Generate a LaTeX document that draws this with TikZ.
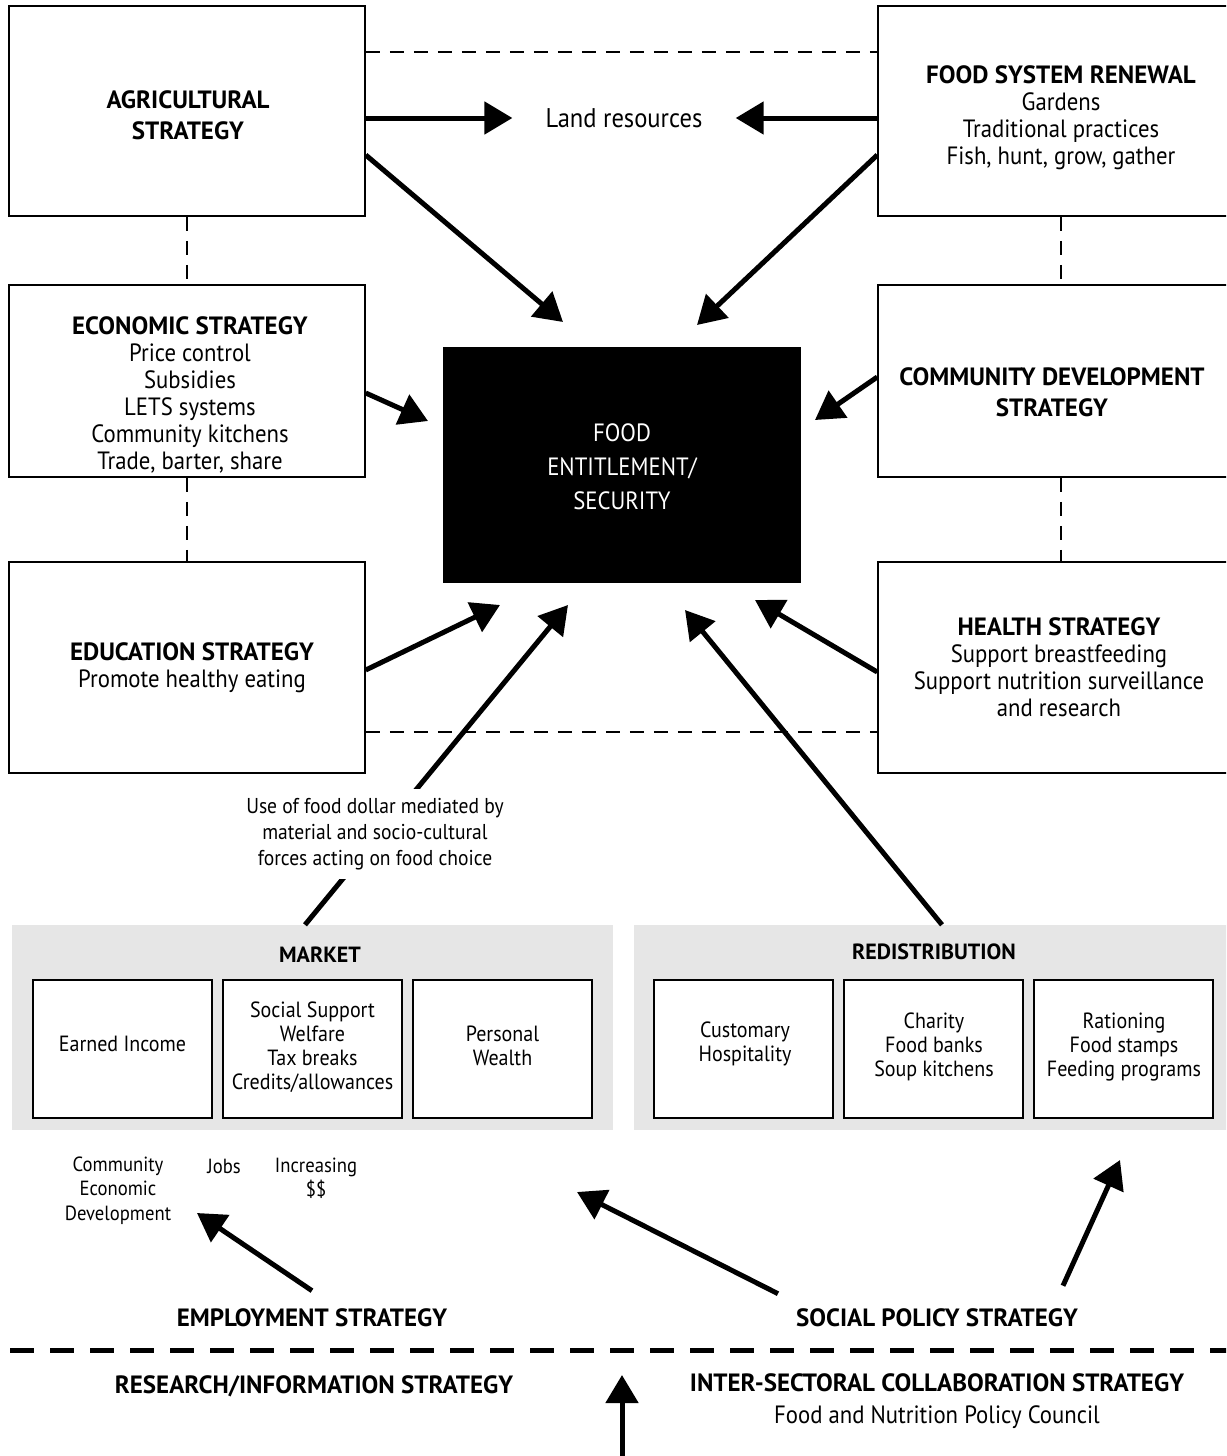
\documentclass[tikz,border=0pt]{standalone}
\usepackage{fontspec}
\setmainfont[FakeStretch=0.91, BoldFeatures={FakeStretch=1.0}]{PT Sans}
\usetikzlibrary{arrows.meta}
\definecolor{panelgray}{HTML}{E6E6E6}
\begin{document}
\begin{tikzpicture}[x=1pt,y=-1pt,
  box/.style={draw, line width=1.5pt, fill=white, inner sep=0pt},
  inbox/.style={draw, line width=1.5pt, fill=white, inner sep=0pt, minimum width=179pt, minimum height=138pt},
  panel/.style={fill=panelgray, inner sep=0pt},
  txt/.style={align=center, inner sep=0pt, font=\fontsize{25}{27}\selectfont},
  small/.style={align=center, inner sep=0pt, font=\fontsize{22}{24}\selectfont},
  arr/.style={line width=5pt, -{Triangle[length=28pt,width=32pt]}},
  boxdash/.style={line width=2pt, dash pattern=on 14pt off 10pt},
  bigdash/.style={line width=5pt, dash pattern=on 24pt off 16pt}
]
\clip (0,0) rectangle (1226,1456);
\fill[white] (0,0) rectangle (1226,1456);

% --- strategy boxes ---
\node[box, minimum width=356pt, minimum height=210pt] (agri) at (187,111) {};
\node[box, minimum width=362pt, minimum height=210pt] (fsr) at (1059,111) {};
\node[box, minimum width=356pt, minimum height=192pt] (econ) at (187,381) {};
\node[box, minimum width=362pt, minimum height=192pt] (comm) at (1059,381) {};
\node[box, minimum width=356pt, minimum height=211pt] (edu) at (187,667.5) {};
\node[box, minimum width=362pt, minimum height=211pt] (health) at (1059,667.5) {};

% --- central box ---
\node[fill=black, minimum width=358pt, minimum height=236pt, inner sep=0pt] (food) at (622,465) {};
\node[align=center, inner sep=0pt, text=white, font=\fontsize{25}{34}\selectfont] (foodtxt) at (622,467) {FOOD\\ENTITLEMENT/\\SECURITY};

% --- box texts ---
\node[txt, font=\bfseries\fontsize{25}{31}\selectfont] (agritxt) at (188,115.5) {AGRICULTURAL\\STRATEGY};
\node[txt] (fsrtxt) at (1061,118) {\textbf{FOOD SYSTEM RENEWAL}\\Gardens\\Traditional practices\\Fish, hunt, grow, gather};
\node[txt] (econtxt) at (190,395) {\textbf{ECONOMIC STRATEGY}\\Price control\\Subsidies\\LETS systems\\Community kitchens\\Trade, barter, share};
\node[txt, font=\bfseries\fontsize{25}{31}\selectfont] (commtxt) at (1052,392.5) {COMMUNITY DEVELOPMENT\\STRATEGY};
\node[txt] (edutxt) at (192,667.5) {\textbf{EDUCATION STRATEGY}\\Promote healthy eating};
\node[txt] (healthtxt) at (1059,667) {\textbf{HEALTH STRATEGY}\\Support breastfeeding\\Support nutrition surveillance\\and research};

\node[txt, font=\fontsize{27}{30}\selectfont] (land) at (624,118) {Land resources};

% --- dashed links ---
\draw[boxdash] (agri.east |- 0,52) -- (fsr.west |- 0,52);
\draw[boxdash] (agri.south) -- (econ.north);
\draw[boxdash] (econ.south) -- (edu.north);
\draw[boxdash] ([xshift=2pt]fsr.south) -- ([xshift=2pt]comm.north);
\draw[boxdash] ([xshift=2pt]comm.south) -- ([xshift=2pt]health.north);
\draw[boxdash] (edu.east |- 0,732) -- (health.west |- 0,732);

% --- panels ---
\node[panel, minimum width=601pt, minimum height=205pt] (market) at (312.5,1027.5) {};
\node[panel, minimum width=606pt, minimum height=205pt] (redist) at (937,1027.5) {};
\node[small, font=\bfseries\fontsize{22}{24}\selectfont] (markettxt) at (320,955) {MARKET};
\node[small, font=\bfseries\fontsize{22}{24}\selectfont] (redisttxt) at (934,952) {REDISTRIBUTION};

\node[inbox] (earned) at (122.5,1049) {};
\node[inbox] (social) at (312.5,1049) {};
\node[inbox] (wealth) at (502.5,1049) {};
\node[inbox] (custom) at (743.5,1049) {};
\node[inbox] (charity) at (933.5,1049) {};
\node[inbox] (ration) at (1123.5,1049) {};
\node[small] (earnedtxt) at (122.5,1044) {Earned Income};
\node[small] (socialtxt) at (312.5,1047.5) {Social Support\\Welfare\\Tax breaks\\Credits/allowances};
\node[small] (wealthtxt) at (502.5,1046) {Personal\\Wealth};
\node[small] (customtxt) at (745,1044) {Customary\\Hospitality};
\node[small] (charitytxt) at (934,1047) {Charity\\Food banks\\Soup kitchens};
\node[small] (rationtxt) at (1124,1047) {Rationing\\Food stamps\\Feeding programs};

% --- arrows ---
\draw[arr] (agri.east |- land) -- ([xshift=-33pt]land.west);
\draw[arr] (fsr.west |- land) -- ([xshift=33pt]land.east);

\coordinate (tA) at (563,322);
\coordinate (tF) at (697,325);
\coordinate (tE) at (428,421);
\coordinate (tC) at (815,420);
\coordinate (tD) at (500,605);
\coordinate (tH) at (755,600);
\coordinate (tM) at (568,605);
\coordinate (tR) at (685,610);
\draw[arr] ([yshift=-44pt]agri.east) -- (tA);
\draw[arr] ([yshift=-44pt]fsr.west) -- (tF);
\draw[arr] ([yshift=-12pt]econ.east) -- (tE);
\draw[arr] ([yshift=4pt]comm.west) -- (tC);
\draw[arr] ([yshift=-2.5pt]edu.east) -- (tD);
\draw[arr] ([yshift=-4.5pt]health.west) -- (tH);
\draw[arr] ([xshift=-7.5pt]market.north) -- (tM);
\draw[arr] ([xshift=5pt]redist.north) -- (tR);

\node[align=center, fill=white, inner xsep=4pt, inner ysep=9pt, font=\fontsize{21.5}{26}\selectfont] (dollar) at (375,834) {Use of food dollar mediated by\\material and socio-cultural\\forces acting on food choice};

% --- lower texts ---
\node[small, font=\fontsize{20.5}{24.5}\selectfont] (ced) at (118,1190.5) {Community\\Economic\\Development};
\node[small, font=\fontsize{20.5}{24.5}\selectfont] (jobs) at (224,1166) {Jobs};
\node[small, font=\fontsize{20.5}{24.5}\selectfont] (incr) at (316,1178.5) {Increasing\\\$\$};

\node[txt, font=\bfseries\fontsize{25}{27}\selectfont] (emp) at (312,1318) {EMPLOYMENT STRATEGY};
\node[txt, font=\bfseries\fontsize{25}{27}\selectfont] (socpol) at (937,1318) {SOCIAL POLICY STRATEGY};
\node[txt, font=\bfseries\fontsize{25}{27}\selectfont] (research) at (314,1386) {RESEARCH/INFORMATION STRATEGY};
\node[txt] (inter) at (937,1401) {\textbf{INTER-SECTORAL COLLABORATION STRATEGY}\\[5pt]Food and Nutrition Policy Council};

\coordinate (tEmp) at (197,1213);
\coordinate (tSoc) at (577,1192);
\coordinate (tRed) at (1120,1160);
\coordinate (tBot) at (622,1375);
\coordinate (bot) at (622,1460);
\draw[arr] ([yshift=18pt]emp.north) -- (tEmp);
\draw[arr] ([xshift=-159pt, yshift=15pt]socpol.north) -- (tSoc);
\draw[arr] ([xshift=126pt, yshift=23pt]socpol.north) -- (tRed);
\draw[arr] (bot) -- (tBot);

\draw[bigdash] (10,1350) -- (1240,1350);
\end{tikzpicture}
\end{document}
